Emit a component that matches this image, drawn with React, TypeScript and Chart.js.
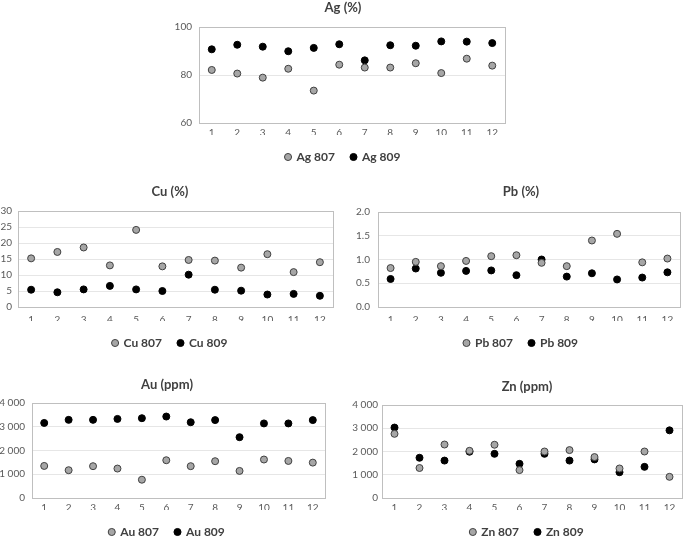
import React, { useEffect, useRef } from "react";
import { Chart, registerables } from "chart.js";

Chart.register(...registerables);

const samples = ["1", "2", "3", "4", "5", "6", "7", "8", "9", "10", "11", "12"];

const ag807 = [82.1, 80.6, 78.9, 82.6, 73.5, 84.3, 83.1, 83.1, 84.9, 80.8, 86.8, 83.9];
const ag809 = [90.7, 92.6, 91.8, 89.9, 91.3, 92.8, 86.1, 92.4, 92.2, 94.0, 93.9, 93.3];

const cu807 = [15.2, 17.2, 18.6, 13.0, 24.1, 12.7, 14.7, 14.5, 12.3, 16.5, 10.9, 14.0];
const cu809 = [5.4, 4.6, 5.5, 6.6, 5.5, 5.0, 10.1, 5.4, 5.1, 3.9, 4.1, 3.5];

const pb807 = [0.82, 0.95, 0.86, 0.97, 1.07, 1.09, 0.93, 0.86, 1.4, 1.54, 0.94, 1.02];
const pb809 = [0.59, 0.81, 0.72, 0.76, 0.77, 0.67, 1.0, 0.64, 0.71, 0.58, 0.62, 0.73];

const au807 = [1350, 1170, 1340, 1240, 770, 1590, 1340, 1550, 1140, 1620, 1560, 1490];
const au809 = [3160, 3290, 3290, 3330, 3360, 3430, 3190, 3280, 2560, 3140, 3140, 3280];

const zn807 = [2760, 1290, 2300, 2030, 2290, 1200, 2000, 2060, 1760, 1270, 2000, 910];
const zn809 = [3030, 1730, 1610, 1990, 1900, 1470, 1900, 1610, 1660, 1110, 1340, 2910];

const FONT = "Lato, 'Liberation Sans', sans-serif";

const spaced = (v: number) => String(v).replace(/\B(?=(\d{3})+(?!\d))/g, " ");
const oneDec = (v: number) => v.toFixed(1);
const plain = (v: number) => String(v);

const plotBorder = {
  id: "plotBorder",
  beforeDatasetsDraw(chart: any) {
    const { ctx, chartArea: a } = chart;
    ctx.save();
    ctx.strokeStyle = "#bfbfbf";
    ctx.lineWidth = 1;
    ctx.strokeRect(
      Math.round(a.left) + 0.5,
      Math.round(a.top) + 0.5,
      Math.round(a.right - a.left),
      Math.round(a.bottom - a.top)
    );
    ctx.restore();
  },
};

type PanelCfg = {
  title: string;
  names: [string, string];
  a: number[];
  b: number[];
  min: number;
  max: number;
  step: number;
  fmt: (v: number) => string;
  left: number;
  top: number;
  w: number;
  h: number;
  padR: number;
  yW: number;
  tTop: number;
  tBot: number;
  xH: number;
  xPad: number;
  yPad: number;
};

const panels: PanelCfg[] = [
  { title: "Ag (%)", names: ["Ag 807", "Ag 809"], a: ag807, b: ag809, min: 60, max: 100, step: 20, fmt: plain,
    left: 160, top: 0, w: 366, h: 173, padR: 21, yW: 39, tTop: 0, tBot: 11.4, xH: 12, xPad: 4, yPad: 7 },
  { title: "Cu (%)", names: ["Cu 807", "Cu 809"], a: cu807, b: cu809, min: 0, max: 30, step: 5, fmt: plain,
    left: 0, top: 180, w: 340, h: 179, padR: 7, yW: 18, tTop: 4, tBot: 11.4, xH: 14, xPad: 7, yPad: 6 },
  { title: "Pb (%)", names: ["Pb 807", "Pb 809"], a: pb807, b: pb809, min: 0, max: 2, step: 0.5, fmt: oneDec,
    left: 350, top: 180, w: 342, h: 179, padR: 12, yW: 28, tTop: 4, tBot: 12.4, xH: 14, xPad: 7, yPad: 8 },
  { title: "Au (ppm)", names: ["Au 807", "Au 809"], a: au807, b: au809, min: 0, max: 4000, step: 1000, fmt: spaced,
    left: 0, top: 370, w: 334, h: 178, padR: 9, yW: 32, tTop: 7, tBot: 10.4, xH: 12, xPad: 4, yPad: 7 },
  { title: "Zn (ppm)", names: ["Zn 807", "Zn 809"], a: zn807, b: zn809, min: 0, max: 4000, step: 1000, fmt: spaced,
    left: 340, top: 370, w: 374, h: 178, padR: 32, yW: 42, tTop: 9, tBot: 10.4, xH: 12, xPad: 4, yPad: 4 },
];

function Panel({ cfg }: { cfg: PanelCfg }) {
  const ref = useRef<HTMLCanvasElement>(null);
  useEffect(() => {
    const point = (bg: string, border: string) => ({
      showLine: false,
      pointRadius: 3.5,
      pointHoverRadius: 3.5,
      pointBorderWidth: 1,
      pointBackgroundColor: bg,
      pointBorderColor: border,
      backgroundColor: bg,
      borderColor: border,
      borderWidth: 1,
    });
    const chart = new Chart(ref.current as HTMLCanvasElement, {
      type: "line",
      data: {
        labels: samples,
        datasets: [
          { label: cfg.names[0], data: cfg.a, ...point("#a6a6a6", "#404040") },
          { label: cfg.names[1], data: cfg.b, ...point("#000000", "#000000") },
        ],
      },
      options: {
        responsive: false,
        animation: false,
        devicePixelRatio: 1,
        layout: { padding: { left: 0, right: 0, top: 0, bottom: 0 } },
        plugins: {
          title: {
            display: true,
            text: cfg.title,
            color: "#404040",
            font: { family: FONT, size: 13, weight: "bold" },
            padding: { top: cfg.tTop, bottom: cfg.tBot },
          },
          legend: {
            position: "bottom",
            labels: {
              usePointStyle: true,
              boxWidth: 5,
              boxHeight: 5,
              padding: 16,
              color: "#404040",
              font: { family: FONT, size: 12, weight: "bold" },
            },
          },
          tooltip: { enabled: false },
        },
        scales: {
          x: {
            type: "category",
            offset: true,
            grid: { display: false, drawTicks: false },
            border: { display: false },
            ticks: {
              color: "#595959",
              font: { family: FONT, size: 10 },
              padding: cfg.xPad,
              autoSkip: false,
              maxRotation: 0,
            },
            afterFit: (s: any) => {
              s.height = cfg.xH;
            },
          },
          y: {
            min: cfg.min,
            max: cfg.max,
            grid: { color: "#e6e6e6", drawTicks: false },
            border: { display: false },
            ticks: {
              stepSize: cfg.step,
              color: "#595959",
              font: { family: FONT, size: 10 },
              padding: cfg.yPad,
              callback: (v: any) => cfg.fmt(Number(v)),
            },
            afterFit: (s: any) => {
              s.width = cfg.yW;
            },
          },
          spacer: {
            type: "linear",
            position: "right",
            display: true,
            grid: { display: false, drawTicks: false },
            border: { display: false },
            ticks: { display: false },
            afterFit: (s: any) => {
              s.width = cfg.padR;
            },
          },
        },
      },
      plugins: [plotBorder],
    } as any);
    return () => chart.destroy();
  }, [cfg]);
  return (
    <canvas
      ref={ref}
      width={cfg.w}
      height={cfg.h}
      style={{ position: "absolute", left: cfg.left, top: cfg.top, width: cfg.w, height: cfg.h }}
    />
  );
}

export default function App() {
  return (
    <div
      style={{
        position: "fixed",
        left: 0,
        top: 0,
        width: 685,
        height: 540,
        overflow: "hidden",
        background: "#ffffff",
      }}
    >
      {panels.map((p) => (
        <Panel key={p.title} cfg={p} />
      ))}
    </div>
  );
}
